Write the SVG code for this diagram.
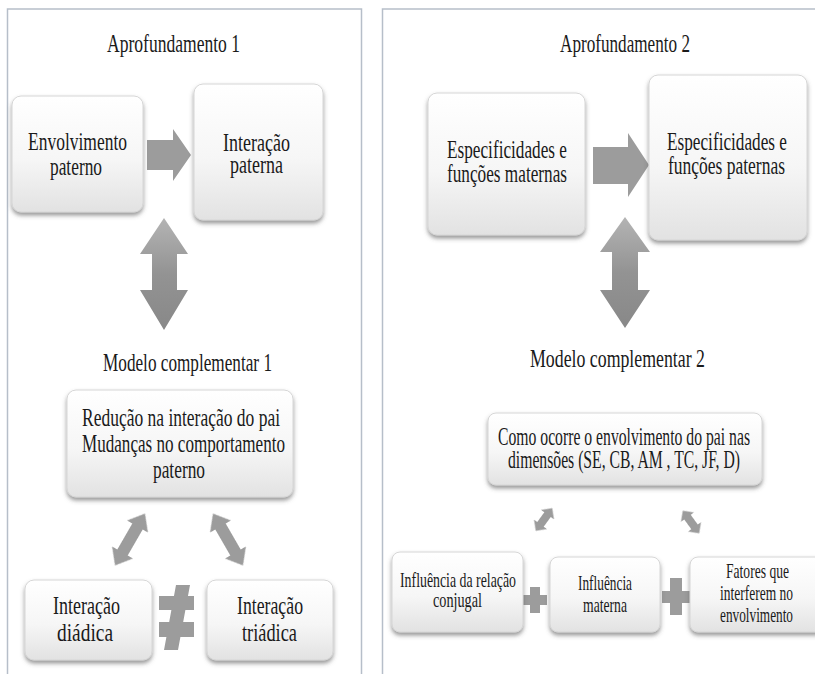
<svg xmlns="http://www.w3.org/2000/svg" width="815" height="674" viewBox="0 0 815 674">
<defs>
<linearGradient id="boxg" x1="0" y1="0" x2="0" y2="1">
<stop offset="0" stop-color="#ffffff"/>
<stop offset="0.55" stop-color="#f6f6f6"/>
<stop offset="1" stop-color="#e2e2e2"/>
</linearGradient>
<linearGradient id="vg" x1="0" y1="0" x2="0" y2="1">
<stop offset="0" stop-color="#b4b4b4"/>
<stop offset="0.5" stop-color="#939393"/>
<stop offset="1" stop-color="#888888"/>
</linearGradient>
<filter id="sh" x="-10%" y="-10%" width="120%" height="130%">
<feDropShadow dx="0" dy="3" stdDeviation="2" flood-color="#555" flood-opacity="0.6"/>
</filter>
<filter id="soft" x="-20%" y="-20%" width="140%" height="140%">
<feGaussianBlur stdDeviation="0.6"/>
</filter>
<path id="dbl" d="M-30,0 L-15,-12 V-6 H15 V-12 L30,0 L15,12 V6 H-15 V12 Z"/>
<path id="dbls" d="M-14,0 L-6,-8 V-4 H6 V-8 L14,0 L6,8 V4 H-6 V8 Z"/>
</defs>
<style>
.panel{fill:#ffffff;stroke:#b6bec9;stroke-width:1.5}
.box{fill:url(#boxg);stroke:#d6d6d6;stroke-width:1;filter:url(#sh)}
text{font-family:'Liberation Serif','Times New Roman',Times,serif;fill:#1a1a1a;text-anchor:middle}
.t{font-size:26px}
.s{font-size:21px}
.ar{fill:#9c9c9c;filter:url(#soft)}
.av{fill:url(#vg);filter:url(#soft)}
</style>
<rect width="815" height="674" fill="#ffffff"/>
<g id="panel-left"><rect class="panel" x="7.5" y="9" width="354" height="700"/></g>
<g id="panel-right"><rect class="panel" x="382.5" y="9" width="460" height="700"/></g>

<g id="connectors">
<path class="ar" d="M147,140 H173 V129 L191,155 L173,181 V170 H147 Z"/>
<path class="av" d="M164,218 L188,254 H177 V290 H188 L164,330 L140,290 H152 V254 H140 Z"/>
<use href="#dbl" class="ar" transform="translate(130,539.5) rotate(-60)"/>
<use href="#dbl" class="ar" transform="translate(228,539.5) rotate(60)"/>
<path class="ar" d="M159,596 H194 V610 H159 Z M159,622 H194 V637 H159 Z M176,585 H190 L178,650 H164 Z"/>
<path class="ar" d="M593,147 H628 V133 L649,165 L628,197 V184 H593 Z"/>
<path class="av" d="M625,217 L650,252 H638 V290 H650 L625,328 L600,290 H612 V252 H600 Z"/>
<use href="#dbls" class="ar" transform="translate(544,519.5) rotate(-54)"/>
<use href="#dbls" class="ar" transform="translate(691,522) rotate(54)"/>
<path class="ar" d="M523,595 H530 V587 H540 V595 H547 V605 H540 V613 H530 V605 H523 Z"/>
<path class="ar" d="M662,591 H670 V578 H682 V591 H690 V603 H682 V615 H670 V603 H662 Z"/>
</g>

<g id="title-aprof1"><text class="t" x="173.5" y="52" textLength="133" lengthAdjust="spacingAndGlyphs">Aprofundamento 1</text></g>
<g id="node-envolvimento">
<rect class="box" x="12" y="96" width="131" height="116" rx="9"/>
<text class="t" x="77.5" y="150" textLength="99" lengthAdjust="spacingAndGlyphs">Envolvimento</text>
<text class="t" x="76" y="175" textLength="52" lengthAdjust="spacingAndGlyphs">paterno</text>
</g>
<g id="node-interacao-paterna">
<rect class="box" x="194" y="84" width="129" height="136" rx="9"/>
<text class="t" x="256.5" y="151" textLength="67" lengthAdjust="spacingAndGlyphs">Interação</text>
<text class="t" x="256.5" y="173" textLength="53" lengthAdjust="spacingAndGlyphs">paterna</text>
</g>
<g id="title-modelo1"><text class="t" x="187.5" y="371" textLength="169" lengthAdjust="spacingAndGlyphs">Modelo complementar 1</text></g>
<g id="node-reducao">
<rect class="box" x="67" y="390" width="226" height="107" rx="9"/>
<text class="t" x="181" y="426" textLength="198" lengthAdjust="spacingAndGlyphs">Redução na interação do pai</text>
<text class="t" x="183.5" y="452" textLength="203" lengthAdjust="spacingAndGlyphs">Mudanças no comportamento</text>
<text class="t" x="179" y="478" textLength="52" lengthAdjust="spacingAndGlyphs">paterno</text>
</g>
<g id="node-diadica">
<rect class="box" x="25" y="580" width="127" height="80" rx="9"/>
<text class="t" x="86.5" y="614" textLength="67" lengthAdjust="spacingAndGlyphs">Interação</text>
<text class="t" x="85" y="641" textLength="56" lengthAdjust="spacingAndGlyphs">diádica</text>
</g>
<g id="node-triadica">
<rect class="box" x="207" y="580" width="126" height="80" rx="9"/>
<text class="t" x="270" y="614" textLength="66" lengthAdjust="spacingAndGlyphs">Interação</text>
<text class="t" x="269.5" y="641" textLength="55" lengthAdjust="spacingAndGlyphs">triádica</text>
</g>

<g id="title-aprof2"><text class="t" x="625" y="52" textLength="130" lengthAdjust="spacingAndGlyphs">Aprofundamento 2</text></g>
<g id="node-maternas">
<rect class="box" x="428" y="93" width="157" height="142" rx="9"/>
<text class="t" x="507" y="158" textLength="120" lengthAdjust="spacingAndGlyphs">Especificidades e</text>
<text class="t" x="507" y="182" textLength="120" lengthAdjust="spacingAndGlyphs">funções maternas</text>
</g>
<g id="node-paternas">
<rect class="box" x="649" y="75" width="158" height="165" rx="9"/>
<text class="t" x="727" y="150" textLength="120" lengthAdjust="spacingAndGlyphs">Especificidades e</text>
<text class="t" x="726.5" y="174" textLength="117" lengthAdjust="spacingAndGlyphs">funções paternas</text>
</g>
<g id="title-modelo2"><text class="t" x="617.5" y="367" textLength="175" lengthAdjust="spacingAndGlyphs">Modelo complementar 2</text></g>
<g id="node-como">
<rect class="box" x="488" y="413" width="274" height="72" rx="8"/>
<text class="t" x="624" y="445" textLength="252" lengthAdjust="spacingAndGlyphs">Como ocorre o envolvimento do pai nas</text>
<text class="t" x="624" y="468" textLength="232" lengthAdjust="spacingAndGlyphs">dimensões (SE, CB, AM , TC, JF, D)</text>
</g>
<g id="node-conjugal">
<rect class="box" x="392" y="552" width="131" height="80" rx="8"/>
<text class="s" x="458" y="587" textLength="116" lengthAdjust="spacingAndGlyphs">Influência  da relação</text>
<text class="s" x="457.5" y="607" textLength="49" lengthAdjust="spacingAndGlyphs">conjugal</text>
</g>
<g id="node-materna">
<rect class="box" x="550" y="557" width="110" height="75" rx="8"/>
<text class="s" x="605" y="590" textLength="54" lengthAdjust="spacingAndGlyphs">Influência</text>
<text class="s" x="605" y="612" textLength="44" lengthAdjust="spacingAndGlyphs">materna</text>
</g>
<g id="node-fatores">
<rect class="box" x="690" y="557" width="135" height="75" rx="8"/>
<text class="s" x="757.5" y="578" textLength="63" lengthAdjust="spacingAndGlyphs">Fatores que</text>
<text class="s" x="756.5" y="600" textLength="73" lengthAdjust="spacingAndGlyphs">interferem no</text>
<text class="s" x="756.5" y="622" textLength="73" lengthAdjust="spacingAndGlyphs">envolvimento</text>
</g>
</svg>
